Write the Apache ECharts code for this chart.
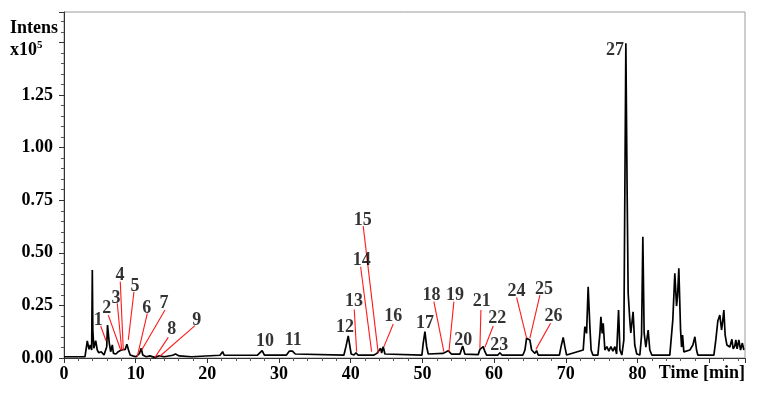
<!DOCTYPE html>
<html>
<head>
<meta charset="utf-8">
<script src="https://cdn.jsdelivr.net/npm/echarts@6/dist/echarts.min.js"></script>
<style>
html,body{margin:0;padding:0;background:#fff;}
#c{width:757px;height:393px;}
</style>
</head>
<body>
<div id="c"></div>
<script>
// Chromatogram trace: retention time (min) and intensity (x10^5)
const timeMin = [
  0, 2.93, 3.25, 3.49, 3.67, 3.86, 3.95, 4.02, 4.16, 4.42,
  4.64, 4.85, 5.19, 5.58, 5.75, 5.96, 6.07, 6.32, 6.51, 6.74,
  6.90, 7.25, 7.57, 7.81, 7.98, 8.20, 8.54, 8.77, 9.00, 9.23,
  9.60, 10.07, 10.53, 10.77, 10.99, 11.46, 11.99, 12.62, 13.32, 14.00,
  15.17, 15.55, 16.08, 17.80, 18.03, 21.76, 22.13, 22.34, 26.99, 27.64,
  27.96, 31.03, 31.45, 31.87, 32.26, 39.05, 39.33, 39.65, 39.89, 40.06,
  40.45, 40.73, 41.00, 43.24, 43.65, 44.17, 44.31, 44.53, 44.77, 45.01,
  49.93, 50.11, 50.35, 50.59, 50.81, 52.90, 53.14, 53.60, 54.07, 55.23,
  55.61, 55.93, 57.78, 58.02, 58.26, 58.48, 58.72, 58.95, 60.53, 60.81,
  61.09, 64.02, 64.30, 64.53, 64.76, 64.99, 65.23, 65.69, 65.93, 66.15,
  69.11, 69.34, 69.64, 69.87, 70.11, 72.43, 72.66, 72.90, 73.12, 73.36,
  73.53, 73.78, 74.48, 74.76, 74.90, 75.08, 75.22, 75.45, 75.73, 76.01,
  76.29, 76.57, 76.85, 77.09, 77.36, 77.55, 77.82, 78.10, 78.38, 78.56,
  78.70, 78.93, 79.07, 79.39, 79.62, 79.90, 80.33, 80.57, 80.75, 80.93,
  81.17, 81.49, 81.72, 82.00, 84.51, 84.93, 85.21, 85.45, 85.59, 85.77,
  86.01, 86.15, 86.29, 86.47, 87.31, 87.73, 88.01, 88.24, 88.42, 90.66,
  90.93, 91.21, 91.49, 91.73, 91.91, 92.05, 92.23, 92.47, 92.89, 93.17,
  93.35, 93.58, 93.72, 93.90, 94.14, 94.38, 94.63, 94.84
];
const intensity = [
  0.006, 0.006, 0.081, 0.041, 0.062, 0.038, 0.418, 0.133, 0.046, 0.082,
  0.038, 0.025, 0.030, 0.014, 0.022, 0.054, 0.157, 0.070, 0.030, 0.062,
  0.022, 0.019, 0.030, 0.022, 0.038, 0.030, 0.041, 0.065, 0.038, 0.014,
  0.010, 0.006, 0.022, 0.046, 0.014, 0.006, 0.010, 0.003, 0.010, 0.006,
  0.013, 0.019, 0.010, 0.006, 0.013, 0.013, 0.030, 0.013, 0.014, 0.035,
  0.014, 0.014, 0.033, 0.033, 0.019, 0.014, 0.054, 0.105, 0.054, 0.019,
  0.014, 0.025, 0.014, 0.014, 0.022, 0.046, 0.024, 0.054, 0.019, 0.014,
  0.014, 0.070, 0.125, 0.054, 0.019, 0.022, 0.014, 0.035, 0.018, 0.018,
  0.057, 0.018, 0.016, 0.041, 0.035, 0.054, 0.030, 0.014, 0.014, 0.025,
  0.014, 0.014, 0.038, 0.094, 0.089, 0.086, 0.038, 0.022, 0.035, 0.014,
  0.014, 0.054, 0.098, 0.054, 0.014, 0.038, 0.149, 0.117, 0.339, 0.149,
  0.038, 0.014, 0.014, 0.117, 0.196, 0.117, 0.165, 0.038, 0.054, 0.033,
  0.054, 0.033, 0.054, 0.019, 0.228, 0.038, 0.014, 0.086, 1.496, 0.784,
  0.309, 0.181, 0.119, 0.220, 0.062, 0.019, 0.014, 0.109, 0.577, 0.119,
  0.052, 0.133, 0.038, 0.014, 0.014, 0.181, 0.403, 0.247, 0.295, 0.426,
  0.133, 0.052, 0.109, 0.029, 0.038, 0.062, 0.101, 0.038, 0.014, 0.014,
  0.086, 0.176, 0.204, 0.133, 0.181, 0.228, 0.109, 0.062, 0.052, 0.089,
  0.043, 0.057, 0.086, 0.043, 0.086, 0.038, 0.071, 0.038
];

// Peak annotations: label number, label position, leader line (from -> to)
const peakIds   = ['1','2','3','4','5','6','7','8','9','10','11','12','13','14','15','16','17','18','19','20','21','22','23','24','25','26','27'];
const labelTime = [4.78, 5.96, 7.25, 7.81, 9.90, 11.53, 13.95, 15.02, 18.51, 28.03, 31.98, 39.19, 40.45, 41.52, 41.66, 45.93, 50.35, 51.28, 54.53, 55.69, 58.26, 60.43, 60.71, 63.14, 66.95, 68.27, 76.85];
const labelInt  = [0.181, 0.236, 0.284, 0.394, 0.342, 0.236, 0.260, 0.136, 0.181, 0.077, 0.086, 0.146, 0.268, 0.466, 0.653, 0.196, 0.165, 0.299, 0.299, 0.086, 0.268, 0.189, 0.062, 0.315, 0.327, 0.196, 1.464];
const lineFromT = [5.12, 6.18, 7.43, 7.85, 9.76, 11.62, 14.09, 14.55, 18.27, null, null, null, 40.49, 41.38, 41.74, 45.93, null, 51.60, 54.39, null, 58.16, 59.87, null, 63.14, 66.39, 67.88, null];
const lineFromI = [0.152, 0.204, 0.260, 0.363, 0.315, 0.212, 0.228, 0.098, 0.154, null, null, null, 0.231, 0.434, 0.627, 0.162, null, 0.268, 0.268, null, 0.228, 0.152, null, 0.288, 0.299, 0.165, null];
const lineToT   = [5.86, 7.91, 8.05, 8.27, 8.97, 10.22, 10.84, 12.69, 13.29, null, null, null, 40.82, 42.91, 43.84, 44.63, null, 52.99, 53.70, null, 58.02, 58.72, null, 64.53, 64.99, 65.83, null];
const lineToI   = [0.082, 0.038, 0.038, 0.038, 0.086, 0.006, 0.038, 0.003, 0.006, null, null, null, 0.030, 0.030, 0.022, 0.054, null, 0.030, 0.030, null, 0.046, 0.051, null, 0.094, 0.094, 0.041, null];

// Axis settings
const xMin = 0, xMax = 95, xStep = 10, xLastLabel = 80;
const yMin = 0, yMax = 1.645, yStep = 0.25, yLastLabel = 1.25;

const FONT = '"Liberation Serif", "Times New Roman", serif';

const trace = timeMin.map((t, i) => [t, intensity[i]]);
const labelPts = peakIds.map((id, i) => ({ value: [labelTime[i], labelInt[i]], name: id }));
const leaders = [];
peakIds.forEach((id, i) => {
  if (lineFromT[i] !== null) {
    leaders.push({ coords: [[lineFromT[i], lineFromI[i]], [lineToT[i], lineToI[i]]] });
  }
});

const chart = echarts.init(document.getElementById('c'), null, { renderer: 'canvas' });
chart.setOption({
  animation: false,
  backgroundColor: '#fff',
  grid: { left: 64, right: 12, top: 12, bottom: 35, show: true, borderColor: '#9a9a9a', borderWidth: 1, backgroundColor: 'transparent' },
  xAxis: {
    type: 'value', min: xMin, max: xMax, interval: xStep,
    axisLine: { show: true, lineStyle: { color: '#333', width: 1 } },
    axisTick: { show: true, length: 5, lineStyle: { color: '#333' } },
    minorTick: { show: true, splitNumber: 5, length: 3, lineStyle: { color: '#555' } },
    splitLine: { show: false },
    axisLabel: {
      margin: 7, color: '#000', fontFamily: FONT, fontWeight: 'bold', fontSize: 18,
      formatter: v => (v > xLastLabel ? '' : String(Math.round(v)))
    }
  },
  yAxis: {
    type: 'value', min: yMin, max: yMax, interval: yStep,
    axisLine: { show: true, lineStyle: { color: '#333', width: 1 } },
    axisTick: { show: true, length: 5, lineStyle: { color: '#333' } },
    minorTick: { show: true, splitNumber: 5, length: 3, lineStyle: { color: '#555' } },
    splitLine: { show: false },
    axisLabel: {
      margin: 11, color: '#000', fontFamily: FONT, fontWeight: 'bold', fontSize: 18,
      formatter: v => (v > yLastLabel + 0.01 ? '' : v.toFixed(2))
    }
  },
  graphic: [
    { type: 'text', left: 10, top: 19, style: { text: 'Intens', font: 'bold 18px ' + FONT, fill: '#000' } },
    { type: 'text', left: 10, top: 40, style: {
        text: '{b|x10}{s|5}', fill: '#000',
        rich: { b: { font: 'bold 18px ' + FONT, fill: '#000', verticalAlign: 'bottom' },
                s: { font: 'bold 11px ' + FONT, fill: '#000', verticalAlign: 'top', padding: [0, 0, 8, 0] } }
      } },
    { type: 'text', right: 12, top: 364, style: { text: 'Time [min]', font: 'bold 18px ' + FONT, fill: '#000' } }
  ],
  series: [
    {
      type: 'line', data: trace, showSymbol: false, symbol: 'none', clip: true,
      lineStyle: { color: '#000', width: 1.7 }, z: 2
    },
    {
      type: 'lines', coordinateSystem: 'cartesian2d', data: leaders,
      lineStyle: { color: '#ff1a1a', width: 1.1, opacity: 1 }, z: 3, silent: true
    },
    {
      type: 'scatter', data: labelPts, symbolSize: 1, itemStyle: { color: 'rgba(0,0,0,0)' }, z: 4,
      label: { show: true, position: 'inside', formatter: p => p.name, color: '#000',
               fontFamily: FONT, fontWeight: 'bold', fontSize: 18 }
    }
  ]
});
</script>
</body>
</html>
